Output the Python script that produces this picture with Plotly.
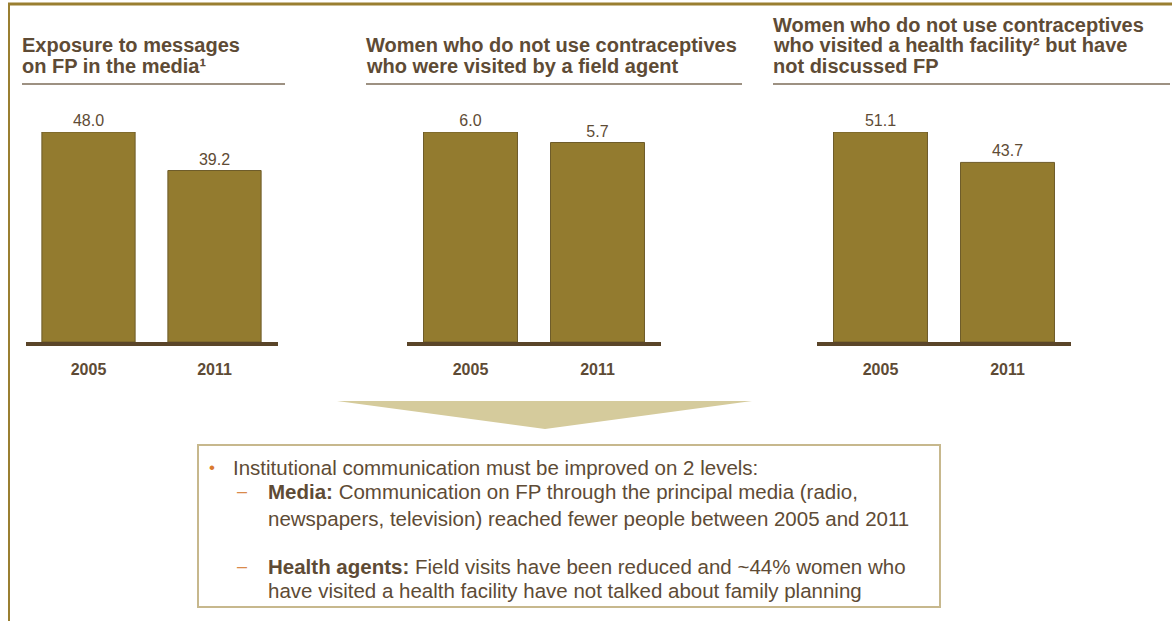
import plotly.graph_objects as go

# ---- data -------------------------------------------------------------
years = ["2005", "2011"]
media_exposure = [48.0, 39.2]
visited_by_agent = [6.0, 5.7]
facility_no_fp = [51.1, 43.7]

panel_titles = [
    ["Exposure to messages", "on FP in the media¹"],
    ["Women who do not use contraceptives", "who were visited by a field agent"],
    ["Women who do not use contraceptives",
     "who visited a health facility² but have",
     "not discussed FP"],
]

note_lines = [
    ("bullet", "Institutional communication must be improved on 2 levels:"),
    ("dash", "<b>Media:</b> Communication on FP through the principal media (radio,"),
    ("cont", "newspapers, television) reached fewer people between 2005 and 2011"),
    ("dash", "<b>Health agents:</b> Field visits have been reduced and ~44% women who"),
    ("cont", "have visited a health facility have not talked about family planning"),
]

# ---- canvas helpers ---------------------------------------------------
W, H = 1172, 621
def px(x):
    return x / W
def py(y):
    return 1 - y / H

BAR = "#937b2f"
TEXT = "#5e4b35"
AXIS = "#5a4529"
FONT = "Liberation Sans, Arial, sans-serif"

fig = go.Figure()

series = [media_exposure, visited_by_agent, facility_no_fp]
x_domains = [(25.5, 277.5), (407, 661), (817, 1071)]
base_y, top_y = 342, 132

for i, vals in enumerate(series):
    sfx = "" if i == 0 else str(i + 1)
    fig.add_trace(go.Bar(
        x=years, y=vals,
        xaxis="x" + sfx, yaxis="y" + sfx,
        marker=dict(color=BAR, line=dict(color="#6e5c2a", width=1)),
        text=[f"{v:.1f}" for v in vals],
        textposition="outside",
        textfont=dict(family=FONT, size=16, color=TEXT),
        cliponaxis=False,
        showlegend=False,
        hoverinfo="skip",
    ))
    d0, d1 = x_domains[i]
    fig.layout["xaxis" + sfx] = dict(
        domain=[px(d0), px(d1)], anchor="y" + sfx,
        type="category",
        showline=True, linecolor=AXIS, linewidth=4,
        showgrid=False, zeroline=False,
        tickmode="array", tickvals=years,
        ticktext=[f"<b>{y}</b>" for y in years],
        tickfont=dict(family=FONT, size=16, color=TEXT),
        ticks="", ticklabelstandoff=10,
        fixedrange=True,
    )
    fig.layout["yaxis" + sfx] = dict(
        domain=[py(base_y), py(top_y)], anchor="x" + sfx,
        range=[0, max(vals)],
        visible=False, fixedrange=True,
    )

fig.update_layout(bargap=0.26)

# ---- panel titles with underline -------------------------------------
title_x = [20, 364, 771]
underline = [(22, 285), (366, 742), (773, 1170)]
for i, lines in enumerate(panel_titles):
    n = len(lines)
    for j, line in enumerate(lines):
        center = 66 - (n - 1 - j) * 20.5
        fig.add_annotation(
            x=px(title_x[i]), y=py(center), xref="paper", yref="paper",
            xanchor="left", yanchor="middle", showarrow=False,
            text=f"<b>{line}</b>",
            font=dict(family=FONT, size=20, color=TEXT),
        )
    x0, x1 = underline[i]
    fig.add_shape(type="line", xref="paper", yref="paper",
                  x0=px(x0), x1=px(x1), y0=py(84), y1=py(84),
                  line=dict(color="#7d6d58", width=1.5))

# ---- frame lines ------------------------------------------------------
fig.add_shape(type="line", xref="paper", yref="paper",
              x0=px(8), x1=px(W), y0=py(4), y1=py(4),
              line=dict(color="#9a7f31", width=3))
fig.add_shape(type="line", xref="paper", yref="paper",
              x0=px(9), x1=px(9), y0=py(3), y1=py(H),
              line=dict(color="#9a7f31", width=2))

# ---- down-pointing wedge ---------------------------------------------
fig.add_shape(type="path", xref="paper", yref="paper",
              path=(f"M {px(337)} {py(401)} L {px(752)} {py(401)} "
                    f"L {px(545)} {py(429)} Z"),
              fillcolor="#d5cb9c", line=dict(width=0))

# ---- conclusion box ---------------------------------------------------
fig.add_shape(type="rect", xref="paper", yref="paper",
              x0=px(198), x1=px(940), y0=py(607), y1=py(445),
              line=dict(color="#c7b88d", width=2), fillcolor="rgba(0,0,0,0)")

line_y = [467, 491, 518, 566, 590]
for (kind, txt), yc in zip(note_lines, line_y):
    if kind == "bullet":
        fig.add_annotation(x=px(212), y=py(yc), xref="paper", yref="paper",
                           xanchor="center", yanchor="middle", showarrow=False,
                           text="•", font=dict(family=FONT, size=17, color="#d97a2e"))
        tx = 231
    else:
        tx = 266
        if kind == "dash":
            fig.add_annotation(x=px(242), y=py(yc), xref="paper", yref="paper",
                               xanchor="center", yanchor="middle", showarrow=False,
                               text="–", font=dict(family=FONT, size=18, color="#d98a4a"))
    fig.add_annotation(x=px(tx), y=py(yc), xref="paper", yref="paper",
                       xanchor="left", yanchor="middle", showarrow=False,
                       text=txt, font=dict(family=FONT, size=20.5, color=TEXT))

fig.update_layout(
    width=W, height=H,
    margin=dict(l=0, r=0, t=0, b=0),
    paper_bgcolor="white", plot_bgcolor="white",
    font=dict(family=FONT, color=TEXT),
)

fig.write_html("out.html")
